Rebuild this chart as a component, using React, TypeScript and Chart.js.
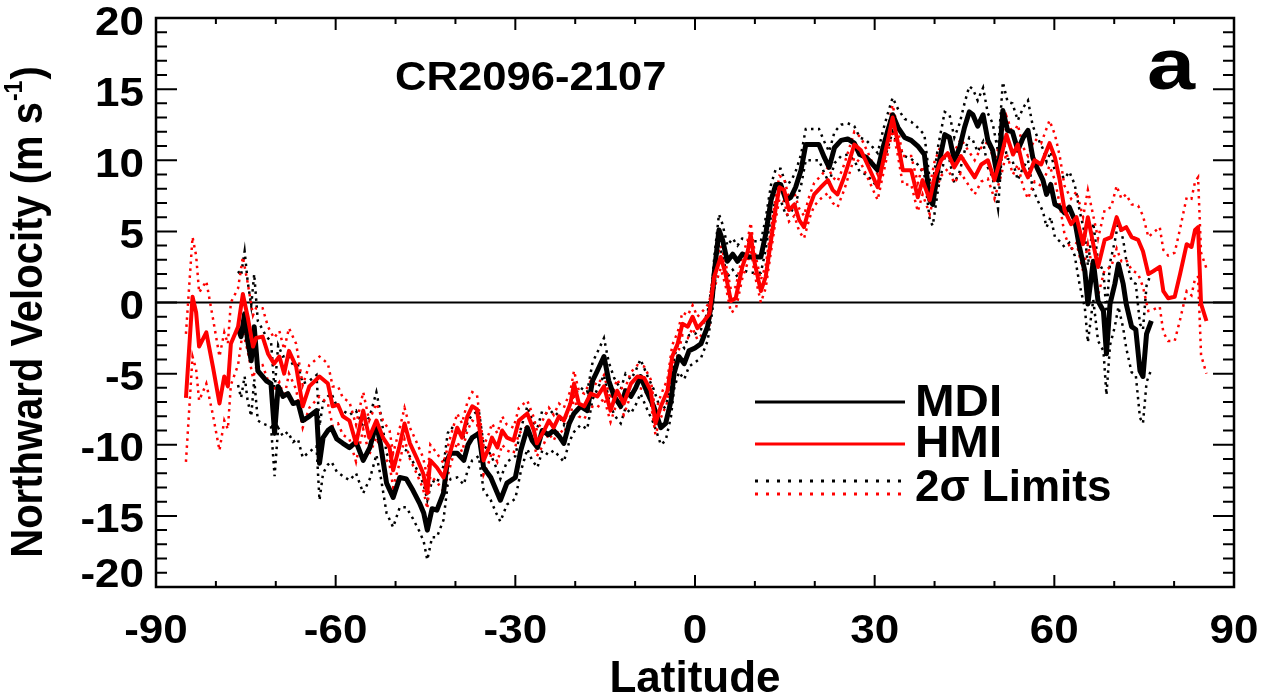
import React, { useEffect, useRef } from "react";
import { Chart, registerables } from "chart.js";

Chart.register(...registerables);

// ---------- data ----------
const mdiLat = [
  -76.3, -75.8, -75.2, -74.7, -74.1, -73.6, -73.0, -72.2, -71.6, -70.8,
  -70.2, -69.6, -68.8, -68.0, -67.1, -66.3, -65.5, -64.4, -63.2, -62.7,
  -62.1, -61.3, -60.7, -59.8, -58.8, -57.7, -56.6, -55.4, -54.3, -53.2,
  -52.5, -51.5, -50.4, -49.3, -48.2, -47.1, -46.0, -45.3, -44.7, -43.9,
  -43.1, -42.0, -41.3, -40.8, -39.7, -38.6, -37.9, -37.2, -36.1, -35.3,
  -34.1, -33.2, -32.5, -31.4, -30.0, -29.1, -28.0, -27.2, -26.3, -25.5,
  -24.5, -23.6, -22.7, -21.9, -21.0, -20.2, -19.1, -18.0, -17.1, -16.3,
  -15.2, -14.4, -13.5, -12.4, -11.6, -10.7, -9.9, -9.1, -7.9, -6.9,
  -5.7, -4.9, -4.0, -3.5, -2.7, -1.8, -1.0, 0.0, 1.0, 2.1,
  2.9, 3.2, 4.0, 4.6, 5.4, 6.3, 7.1, 7.9, 9.1, 10.2,
  11.0, 11.8, 12.7, 13.5, 14.3, 15.2, 16.0, 16.8, 17.7, 18.5,
  19.6, 20.7, 21.6, 22.4, 23.3, 24.4, 25.5, 26.6, 27.5, 28.6,
  29.7, 30.5, 31.4, 32.2, 33.0, 33.9, 35.0, 36.1, 37.2, 38.3,
  39.2, 39.7, 40.6, 41.7, 42.5, 43.3, 44.2, 45.0, 45.8, 46.4,
  47.2, 48.1, 48.9, 49.7, 50.6, 51.4, 52.2, 53.0, 53.9, 54.8,
  55.6, 56.4, 57.3, 58.1, 58.7, 59.4, 60.1, 60.9, 61.7, 62.5,
  63.4, 64.2, 65.1, 65.6, 66.5, 67.3, 68.2, 68.7, 69.3, 70.1,
  70.7, 71.5, 72.0, 72.9, 73.6, 74.3, 74.8, 75.4, 76.2,
];
const mdiVel = [
  -1.8, -2.4, -0.8, -2.7, -4.1, -1.7, -4.8, -5.2, -5.5, -5.7,
  -9.2, -5.9, -6.6, -6.4, -7.1, -7.0, -8.3, -8.0, -7.6, -11.3,
  -9.5, -9.0, -8.8, -9.6, -9.9, -10.2, -9.8, -11.1, -10.2, -8.5,
  -10.0, -12.7, -13.7, -12.3, -12.4, -13.2, -14.1, -14.8, -16.0, -14.5,
  -14.6, -13.4, -11.0, -10.6, -10.6, -11.1, -10.0, -9.5, -9.2, -11.6,
  -12.3, -13.2, -13.9, -12.7, -12.3, -10.4, -8.8, -9.7, -10.2, -9.0,
  -9.3, -9.0, -9.4, -9.9, -8.5, -7.8, -7.3, -7.6, -5.5, -4.8,
  -3.8, -5.5, -6.6, -7.3, -6.2, -6.6, -6.0, -5.2, -6.4, -7.3,
  -8.8, -8.5, -6.9, -5.0, -3.8, -4.3, -3.4, -3.2, -2.9, -1.7,
  0.4, 2.0, 5.1, 4.4, 2.9, 3.4, 2.9, 3.4, 3.2, 3.2,
  3.2, 4.8, 7.2, 8.3, 8.3, 7.2, 7.4, 8.1, 9.3, 11.1,
  11.1, 11.1, 10.2, 9.5, 10.9, 11.4, 11.5, 11.2, 10.4, 10.2,
  9.7, 9.3, 10.9, 12.1, 13.2, 12.3, 11.6, 11.4, 11.0, 10.4,
  7.2, 6.9, 9.5, 11.8, 11.6, 10.0, 10.9, 12.3, 13.4, 13.2,
  12.4, 13.2, 11.4, 10.7, 8.6, 13.5, 12.1, 12.0, 10.7, 11.6,
  12.1, 10.2, 9.3, 8.6, 7.6, 8.3, 6.9, 6.7, 6.3, 6.7,
  5.8, 3.9, 2.2, -0.1, 2.9, 0.1, -0.6, -3.6, -0.1, 1.3,
  2.7, 1.3, -0.1, -1.7, -1.9, -4.8, -5.2, -2.2, -1.3,
];
// half-width of the 2-sigma band around MDI
const mdiTwoSigma = [
  4.0, 4.3, 4.4, 4.2, 3.9, 3.7, 3.5, 3.3, 3.1, 3.0,
  3.0, 2.9, 2.8, 2.7, 2.7, 2.6, 2.6, 2.5, 2.5, 2.6,
  2.5, 2.4, 2.4, 2.3, 2.3, 2.3, 2.2, 2.3, 2.2, 2.2,
  2.2, 2.1, 2.1, 2.1, 2.0, 2.0, 2.0, 2.0, 2.1, 2.0,
  1.9, 1.9, 1.8, 1.8, 1.7, 1.7, 1.7, 1.6, 1.6, 1.6,
  1.6, 1.6, 1.5, 1.5, 1.5, 1.5, 1.5, 1.4, 1.4, 1.4,
  1.4, 1.4, 1.4, 1.3, 1.3, 1.3, 1.3, 1.3, 1.3, 1.3,
  1.3, 1.3, 1.3, 1.2, 1.2, 1.2, 1.2, 1.2, 1.2, 1.2,
  1.2, 1.2, 1.1, 1.1, 1.1, 1.1, 1.1, 1.0, 1.0, 1.0,
  1.0, 1.1, 1.1, 1.1, 1.1, 1.1, 1.1, 1.1, 1.1, 1.1,
  1.1, 1.1, 1.1, 1.1, 1.1, 1.1, 1.1, 1.1, 1.1, 1.1,
  1.1, 1.1, 1.1, 1.1, 1.1, 1.1, 1.1, 1.2, 1.2, 1.2,
  1.2, 1.2, 1.2, 1.2, 1.2, 1.3, 1.3, 1.3, 1.3, 1.4,
  1.4, 1.5, 1.5, 1.6, 1.6, 1.6, 1.7, 1.7, 1.8, 1.8,
  1.8, 1.9, 1.9, 1.9, 2.0, 2.0, 2.0, 2.0, 2.1, 2.1,
  2.1, 2.2, 2.2, 2.2, 2.3, 2.3, 2.3, 2.4, 2.4, 2.5,
  2.5, 2.6, 2.6, 2.7, 2.7, 2.8, 2.8, 2.9, 2.9, 3.0,
  3.0, 3.1, 3.1, 3.2, 3.2, 3.3, 3.3, 3.4, 3.4,
];

const hmiLat = [
  -85.0, -83.9, -83.3, -82.8, -81.6, -80.5, -79.4, -78.6, -78.0, -77.5,
  -76.3, -75.5, -74.7, -73.8, -73.3, -72.2, -71.3, -70.3, -69.4, -68.6,
  -67.8, -66.6, -65.5, -64.4, -62.7, -61.3, -60.5, -59.6, -58.8, -57.7,
  -56.6, -55.4, -54.4, -53.2, -52.1, -51.0, -50.4, -49.4, -48.5, -47.6,
  -46.5, -45.4, -44.7, -44.2, -43.1, -42.0, -40.8, -39.7, -38.9, -38.0,
  -37.2, -36.4, -35.3, -34.4, -33.9, -33.0, -32.2, -31.4, -30.3, -29.4,
  -28.0, -26.9, -26.4, -25.2, -24.4, -23.6, -22.7, -21.9, -20.8, -20.2,
  -19.4, -18.5, -17.4, -16.3, -15.2, -14.1, -13.0, -11.9, -10.7, -9.6,
  -8.5, -7.4, -6.6, -5.7, -4.6, -3.8, -2.9, -2.1, -1.2, -0.4,
  0.4, 1.5, 2.4, 3.2, 4.3, 5.1, 6.0, 6.8, 7.9, 8.8,
  9.3, 9.9, 11.0, 11.8, 12.7, 13.5, 14.1, 14.9, 15.7, 16.6,
  17.4, 18.2, 19.1, 19.9, 21.0, 22.2, 23.0, 23.8, 24.9, 25.8,
  26.6, 27.7, 28.8, 30.5, 31.3, 32.2, 33.0, 33.8, 34.7, 36.1,
  37.2, 38.0, 39.2, 40.0, 41.1, 42.2, 43.3, 44.4, 45.6, 46.7,
  47.8, 48.9, 50.0, 51.1, 52.0, 53.1, 53.9, 54.8, 55.6, 56.7,
  57.8, 59.2, 60.1, 60.9, 61.7, 62.8, 63.7, 64.8, 65.6, 66.5,
  67.3, 68.4, 69.5, 70.4, 71.2, 72.0, 72.9, 74.0, 74.8, 75.7,
  76.5, 77.6, 78.2, 79.0, 80.1, 81.0, 82.1, 82.9, 83.5, 84.0,
  84.5, 85.4,
];
const hmiVel = [
  -6.7, 0.4, -0.7, -3.1, -2.1, -4.5, -7.1, -5.2, -5.9, -2.9,
  -1.7, 0.6, -1.0, -3.1, -2.5, -2.4, -3.6, -4.3, -3.8, -5.0,
  -3.4, -4.5, -7.3, -5.9, -5.2, -5.7, -7.3, -7.2, -8.0, -8.3,
  -9.9, -7.6, -9.5, -8.3, -9.5, -10.2, -11.8, -10.2, -8.5, -9.9,
  -10.9, -12.0, -13.4, -11.1, -11.6, -12.3, -10.4, -8.8, -9.5, -8.0,
  -7.3, -7.5, -11.1, -10.2, -9.5, -10.2, -9.0, -9.5, -9.7, -8.3,
  -7.8, -9.0, -9.9, -9.0, -8.3, -8.8, -8.0, -8.3, -7.1, -5.7,
  -7.1, -7.3, -6.4, -6.6, -5.9, -7.6, -6.2, -7.1, -5.7, -5.2,
  -5.3, -6.2, -8.5, -7.3, -6.2, -3.8, -2.9, -1.5, -1.7, -1.0,
  -1.8, -1.3, -0.8, 1.8, 3.2, 2.0, 0.1, 0.3, 2.5, 3.6,
  4.8, 2.9, 0.8, 1.8, 4.4, 6.7, 8.1, 7.9, 6.5, 6.9,
  5.8, 5.3, 6.7, 7.6, 8.1, 8.6, 7.9, 7.6, 8.8, 10.0,
  11.1, 10.7, 9.7, 8.1, 9.7, 11.4, 13.0, 11.4, 9.3, 9.3,
  7.4, 8.6, 7.2, 8.8, 10.0, 10.5, 9.5, 10.3, 9.5, 8.8,
  9.7, 10.0, 8.6, 10.2, 11.8, 10.4, 11.1, 9.5, 8.8, 10.0,
  9.7, 11.2, 10.2, 8.6, 6.5, 5.5, 6.0, 4.1, 6.0, 4.1,
  2.5, 4.4, 4.6, 6.0, 5.1, 5.3, 4.6, 4.4, 3.6, 2.0,
  2.2, 2.5, 0.8, 0.3, 0.4, 2.0, 4.1, 3.9, 5.1, 5.3,
  -0.1, -1.3,
];
// half-width of the 2-sigma band around HMI
const hmiTwoSigma = [
  4.5, 4.2, 4.0, 3.8, 3.6, 3.4, 3.3, 3.1, 3.0, 2.9,
  2.7, 2.6, 2.4, 2.2, 2.1, 2.0, 1.9, 1.8, 1.8, 1.7,
  1.6, 1.6, 1.5, 1.5, 1.4, 1.4, 1.4, 1.3, 1.3, 1.3,
  1.3, 1.3, 1.2, 1.2, 1.2, 1.2, 1.2, 1.2, 1.1, 1.1,
  1.1, 1.1, 1.1, 1.1, 1.0, 1.0, 1.0, 1.0, 1.0, 1.0,
  1.0, 1.0, 1.0, 1.0, 1.0, 1.0, 1.0, 0.9, 0.9, 0.9,
  0.9, 0.9, 0.9, 0.9, 0.9, 0.9, 0.9, 0.9, 0.9, 0.9,
  0.9, 0.9, 0.9, 0.8, 0.8, 0.8, 0.8, 0.8, 0.8, 0.8,
  0.8, 0.8, 0.8, 0.8, 0.8, 0.8, 0.8, 0.8, 0.8, 0.8,
  0.8, 0.8, 0.8, 0.8, 0.8, 0.8, 0.8, 0.8, 0.8, 0.8,
  0.8, 0.8, 0.8, 0.8, 0.8, 0.8, 0.8, 0.8, 0.8, 0.8,
  0.8, 0.8, 0.8, 0.8, 0.8, 0.9, 0.9, 0.9, 0.9, 0.9,
  0.9, 0.9, 0.9, 0.9, 0.9, 0.9, 0.9, 0.9, 1.0, 1.0,
  1.0, 1.0, 1.0, 1.1, 1.1, 1.1, 1.1, 1.2, 1.2, 1.2,
  1.2, 1.3, 1.3, 1.3, 1.3, 1.4, 1.4, 1.4, 1.5, 1.5,
  1.5, 1.6, 1.6, 1.7, 1.7, 1.8, 1.8, 1.9, 1.9, 2.0,
  2.0, 2.1, 2.1, 2.2, 2.2, 2.3, 2.3, 2.4, 2.5, 2.6,
  2.7, 2.8, 2.9, 3.0, 3.1, 3.2, 3.3, 3.4, 3.4, 3.5,
  3.6, 3.7,
];

const xTicks = [-90, -60, -30, 0, 30, 60, 90];
const yTicks = [-20, -15, -10, -5, 0, 5, 10, 15, 20];
const xMinorStep = 10;
const yMinorStep = 1;

const seriesNames = ["MDI", "HMI", "2σ Limits"];
const xTitle = "Latitude";
const yTitleMain = "Northward Velocity (m s";
const yTitleSup = "-1";
const yTitleEnd = ")";
const periodLabel = "CR2096-2107";
const panelLabel = "a";

const FONT = "'Liberation Sans', Arial, Helvetica, sans-serif";
const RED = "#ff0000";
const BLACK = "#000000";
const SX = 1.1; // horizontal stretch of the lettering in the original figure

function pts(lat: number[], v: number[], off: number[] | null, sign: number) {
  const n = Math.min(lat.length, v.length, off ? off.length : v.length);
  const out: { x: number; y: number }[] = [];
  for (let i = 0; i < n; i++) {
    out.push({ x: lat[i], y: off ? v[i] + sign * off[i] : v[i] });
  }
  return out;
}

function stretchText(ctx: CanvasRenderingContext2D, text: string, x: number, y: number, align: CanvasTextAlign, sx: number) {
  ctx.save();
  ctx.translate(x, y);
  ctx.scale(sx, 1);
  ctx.textAlign = align;
  ctx.fillText(text, 0, 0);
  ctx.restore();
}

const decorPlugin = {
  id: "decor",
  beforeDatasetsDraw(chart: any) {
    const { ctx, chartArea, scales } = chart;
    const y0 = scales.y.getPixelForValue(0);
    ctx.save();
    ctx.strokeStyle = BLACK;
    ctx.lineWidth = 2;
    ctx.beginPath();
    ctx.moveTo(chartArea.left, y0);
    ctx.lineTo(chartArea.right, y0);
    ctx.stroke();
    ctx.restore();
  },
  afterDraw(chart: any) {
    const { ctx, chartArea, scales } = chart;
    const { left, right, top, bottom } = chartArea;
    const xs = scales.x;
    const ys = scales.y;
    ctx.save();
    ctx.strokeStyle = BLACK;
    ctx.lineWidth = 2.5;
    ctx.strokeRect(left, top, right - left, bottom - top);

    // x ticks (inward, bottom & top)
    ctx.lineWidth = 2;
    for (let v = xs.min; v <= xs.max + 1e-6; v += xMinorStep) {
      const major = xTicks.includes(Math.round(v));
      const len = major ? 12 : 6;
      const px = xs.getPixelForValue(v);
      ctx.beginPath();
      ctx.moveTo(px, bottom);
      ctx.lineTo(px, bottom - len);
      ctx.moveTo(px, top);
      ctx.lineTo(px, top + len);
      ctx.stroke();
    }
    // y ticks (inward, left & right)
    for (let v = ys.min; v <= ys.max + 1e-6; v += yMinorStep) {
      const major = yTicks.includes(Math.round(v));
      const len = major ? 21 : 11;
      const py = ys.getPixelForValue(v);
      ctx.beginPath();
      ctx.moveTo(left, py);
      ctx.lineTo(left + len, py);
      ctx.moveTo(right, py);
      ctx.lineTo(right - len, py);
      ctx.stroke();
    }

    ctx.fillStyle = BLACK;
    ctx.textBaseline = "alphabetic";

    // tick labels from the scales' ticks
    ctx.font = `bold 40px ${FONT}`;
    xs.ticks.forEach((t: any) => {
      stretchText(ctx, String(t.value), xs.getPixelForValue(t.value), 643, "center", SX);
    });
    ys.ticks.forEach((t: any) => {
      const cy = Math.min(ys.getPixelForValue(t.value) + 2, bottom - 15);
      stretchText(ctx, String(t.value), left - 12, cy + 14.5, "right", SX);
    });

    // axis titles
    ctx.font = `bold 44px ${FONT}`;
    stretchText(ctx, xTitle, (left + right) / 2, 692, "center", 1.0);

    ctx.save();
    ctx.textBaseline = "middle";
    ctx.translate(30, 312);
    ctx.rotate(-Math.PI / 2);
    ctx.scale(1, SX);
    ctx.font = `bold 40px ${FONT}`;
    const wMain = ctx.measureText(yTitleMain).width;
    ctx.font = `bold 23px ${FONT}`;
    const wSup = ctx.measureText(yTitleSup).width;
    ctx.font = `bold 40px ${FONT}`;
    const wEnd = ctx.measureText(yTitleEnd).width;
    let cx = -(wMain + wSup + 2 + wEnd) / 2;
    ctx.textAlign = "left";
    ctx.fillText(yTitleMain, cx, 0);
    cx += wMain + 1;
    ctx.font = `bold 23px ${FONT}`;
    ctx.fillText(yTitleSup, cx, -14);
    cx += wSup + 1;
    ctx.font = `bold 40px ${FONT}`;
    ctx.fillText(yTitleEnd, cx, 0);
    ctx.restore();

    // annotations
    ctx.textBaseline = "middle";
    ctx.font = `bold 40px ${FONT}`;
    stretchText(ctx, periodLabel, 395, 79, "left", 1.09);
    ctx.font = `bold 72px ${FONT}`;
    stretchText(ctx, panelLabel, 1147, 69, "left", 1.2);

    // legend
    const lx0 = 755;
    const lx1 = 905;
    ctx.setLineDash([]);
    ctx.lineWidth = 3;
    ctx.strokeStyle = BLACK;
    ctx.beginPath();
    ctx.moveTo(lx0, 402);
    ctx.lineTo(lx1, 402);
    ctx.stroke();
    ctx.strokeStyle = RED;
    ctx.beginPath();
    ctx.moveTo(lx0, 444);
    ctx.lineTo(lx1, 444);
    ctx.stroke();
    ctx.lineWidth = 3;
    ctx.setLineDash([3, 8]);
    ctx.strokeStyle = BLACK;
    ctx.beginPath();
    ctx.moveTo(lx0, 481);
    ctx.lineTo(lx1, 481);
    ctx.stroke();
    ctx.strokeStyle = RED;
    ctx.beginPath();
    ctx.moveTo(lx0, 494);
    ctx.lineTo(lx1, 494);
    ctx.stroke();
    ctx.setLineDash([]);
    ctx.font = `bold 44px ${FONT}`;
    ctx.fillStyle = BLACK;
    stretchText(ctx, seriesNames[0], 915, 404, "left", 1.08);
    stretchText(ctx, seriesNames[1], 915, 445, "left", 1.08);
    stretchText(ctx, seriesNames[2], 915, 489, "left", 1.0);
    ctx.restore();
  },
};

export default function App() {
  const canvasRef = useRef<HTMLCanvasElement | null>(null);

  useEffect(() => {
    const canvas = canvasRef.current;
    if (!canvas) return;
    const dotted = (color: string, data: any, order: number) => ({
      data,
      borderColor: color,
      borderWidth: 2.5,
      borderDash: [2.5, 4.5],
      pointRadius: 0,
      fill: false,
      tension: 0,
      order,
    });
    const chart = new Chart(canvas, {
      type: "line",
      data: {
        datasets: [
          {
            label: "HMI",
            data: pts(hmiLat, hmiVel, null, 0),
            borderColor: RED,
            borderWidth: 4,
            pointRadius: 0,
            borderJoinStyle: "round",
            fill: false,
            tension: 0,
            order: 0,
          },
          {
            label: "MDI",
            data: pts(mdiLat, mdiVel, null, 0),
            borderColor: BLACK,
            borderWidth: 5,
            pointRadius: 0,
            borderJoinStyle: "round",
            fill: false,
            tension: 0,
            order: 1,
          },
          dotted(RED, pts(hmiLat, hmiVel, hmiTwoSigma, 1), 2),
          dotted(RED, pts(hmiLat, hmiVel, hmiTwoSigma, -1), 3),
          dotted(BLACK, pts(mdiLat, mdiVel, mdiTwoSigma, 1), 4),
          dotted(BLACK, pts(mdiLat, mdiVel, mdiTwoSigma, -1), 5),
        ] as any,
      },
      options: {
        animation: false,
        responsive: false,
        maintainAspectRatio: false,
        layout: { padding: { left: 0, right: 40, top: 18, bottom: 0 } },
        plugins: {
          legend: { display: false },
          tooltip: { enabled: false },
          title: { display: false },
        },
        scales: {
          x: {
            type: "linear",
            min: -90,
            max: 90,
            afterBuildTicks: (s: any) => {
              s.ticks = xTicks.map((v) => ({ value: v }));
            },
            afterFit: (s: any) => {
              s.height = 108;
              s.paddingLeft = 0;
              s.paddingRight = 0;
            },
            grid: { display: false, drawTicks: false },
            border: { display: false },
            ticks: { display: false },
            title: { display: false },
          },
          y: {
            type: "linear",
            min: -20,
            max: 20,
            afterBuildTicks: (s: any) => {
              s.ticks = yTicks.map((v) => ({ value: v }));
            },
            afterFit: (s: any) => {
              s.width = 156;
              s.paddingTop = 0;
              s.paddingBottom = 0;
            },
            grid: { display: false, drawTicks: false },
            border: { display: false },
            ticks: { display: false },
            title: { display: false },
          },
        },
      } as any,
      plugins: [decorPlugin],
    });
    return () => chart.destroy();
  }, []);

  return (
    <div style={{ position: "fixed", left: 0, top: 0, width: 1274, height: 695, background: "#fff" }}>
      <canvas ref={canvasRef} width={1274} height={695} style={{ width: 1274, height: 695, display: "block" }} />
    </div>
  );
}
